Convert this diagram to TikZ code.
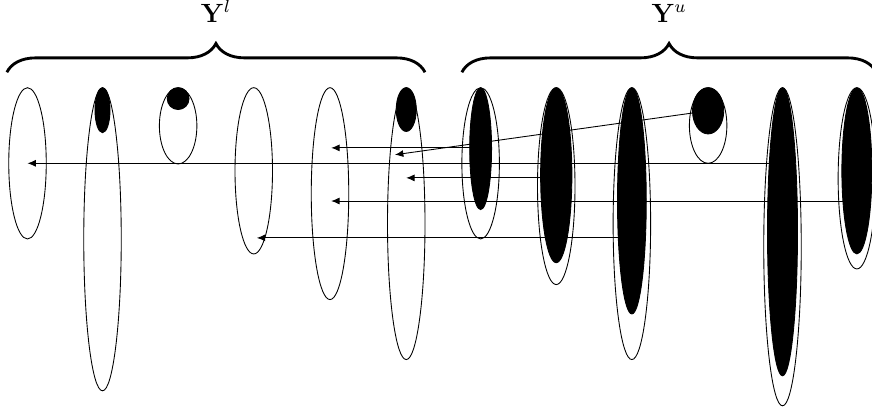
\documentclass[tikz,border=0pt]{standalone}
\usetikzlibrary{shapes.geometric, decorations.pathreplacing, backgrounds, arrows.meta}

\begin{document}
\begin{tikzpicture}[
    cell/.style={draw, ellipse, inner sep=0pt, minimum width=0.6cm, anchor=north},
    blob/.style={draw, fill=black, ellipse, inner sep=0pt, anchor=north},
    arrow/.style={-{Latex[length=3.8pt, width=3.2pt]}},
    group/.style={decorate, decoration={brace, amplitude=0.46cm}, line width=1.3pt},
]
\useasboundingbox (0,0) rectangle (13.952,6.576);

% Labelled set
\node[cell, minimum height=2.42cm] (l1) at (0.44, 5.18) {};
\node[cell, minimum height=4.85cm] (l2) at (1.64, 5.18) {};
\node[cell, minimum height=1.22cm] (l3) at (2.85, 5.18) {};
\node[cell, minimum height=2.66cm] (l4) at (4.06, 5.18) {};
\node[cell, minimum height=3.39cm] (l5) at (5.28, 5.18) {};
\node[cell, minimum height=4.35cm] (l6) at (6.50, 5.18) {};

\node[blob, minimum width=0.24cm, minimum height=0.72cm] (l2in) at (l2.north) {};
\node[blob, minimum width=0.35cm, minimum height=0.35cm] (l3in) at (l3.north) {};
\node[blob, minimum width=0.32cm, minimum height=0.70cm] (l6in) at (l6.north) {};

% Unlabelled set
\node[cell, minimum height=2.42cm] (u1) at (7.69, 5.18) {};
\node[cell, minimum height=3.15cm] (u2) at (8.90, 5.18) {};
\node[cell, minimum height=4.35cm] (u3) at (10.11, 5.18) {};
\node[cell, minimum height=1.21cm] (u4) at (11.33, 5.18) {};
\node[cell, minimum height=5.09cm] (u5) at (12.52, 5.18) {};
\node[cell, minimum height=2.90cm] (u6) at (13.71, 5.18) {};

\node[blob, minimum width=0.35cm, minimum height=1.95cm] (u1in) at (u1.north) {};
\node[blob, minimum width=0.50cm, minimum height=2.80cm] (u2in) at (u2.north) {};
\node[blob, minimum width=0.46cm, minimum height=3.62cm] (u3in) at (u3.north) {};
\node[blob, minimum width=0.50cm, minimum height=0.74cm] (u4in) at (u4.north) {};
\node[blob, minimum width=0.48cm, minimum height=4.61cm] (u5in) at (u5.north) {};
\node[blob, minimum width=0.48cm, minimum height=2.66cm] (u6in) at (u6.north) {};

% Braces
\draw[group] (0.11, 5.42) -- (6.80, 5.42)
    node[midway, above=0.66cm, font=\large] (yl) {$\mathbf{Y}^l$};
\draw[group] (7.39, 5.42) -- (14.02, 5.42)
    node[midway, above=0.66cm, font=\large] (yu) {$\mathbf{Y}^u$};

% Arrow ends
\coordinate (a1) at (5.30, 4.21);
\coordinate (a2) at (6.50, 3.73);
\coordinate (a3) at (4.11, 2.77);
\coordinate (a4) at (6.32, 4.10);
\coordinate (a6) at (5.30, 3.36);

% Arrows
\begin{scope}[on background layer]
\draw[arrow] (a1 -| u1) -- (a1);
\draw[arrow] (a2 -| u2) -- (a2);
\draw[arrow] (a3 -| u3) -- (a3);
\draw[arrow] (u4in.center) -- (a4);
\draw[arrow] (l1.center -| u5) -- (l1.center);
\draw[arrow] (a6 -| u6) -- (a6);
\end{scope}

\end{tikzpicture}
\end{document}
